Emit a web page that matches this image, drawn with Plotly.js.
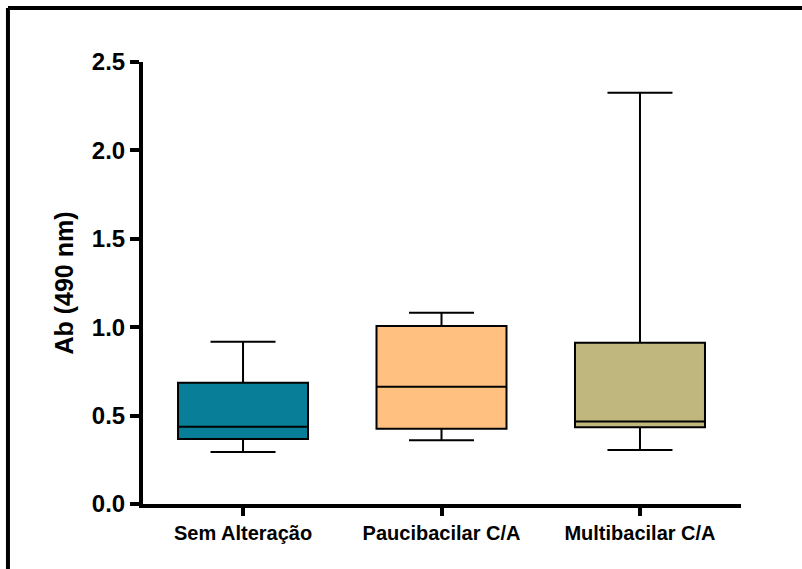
<!DOCTYPE html>
<html>
<head>
<meta charset="utf-8">
<script src="https://cdn.plot.ly/plotly-3.0.1.min.js"></script>
<style>html,body{margin:0;padding:0;background:#fff;}#chart{width:802px;height:569px;}</style>
</head>
<body>
<div id="chart"></div>
<script>
const categories = ["Sem Alteração", "Paucibacilar C/A", "Multibacilar C/A"];
const minValues = [0.294, 0.360, 0.305];
const q1Values = [0.368, 0.426, 0.434];
const medianValues = [0.437, 0.663, 0.466];
const q3Values = [0.686, 1.007, 0.912];
const maxValues = [0.918, 1.082, 2.326];
const fillColors = ["#087E99", "#FFC080", "#C0B77E"];
const yTickValues = [0, 0.5, 1.0, 1.5, 2.0, 2.5];
const yTickLabels = ["0.0", "0.5", "1.0", "1.5", "2.0", "2.5"];

const traces = categories.map((c, i) => ({
  type: "box",
  x: [c],
  q1: [q1Values[i]],
  median: [medianValues[i]],
  q3: [q3Values[i]],
  lowerfence: [minValues[i]],
  upperfence: [maxValues[i]],
  fillcolor: fillColors[i],
  line: {color: "#000", width: 2},
  width: 0.655,
  whiskerwidth: 0.5,
  boxpoints: false,
  hoverinfo: "skip",
  showlegend: false
}));

const font = "Liberation Sans, Arial, sans-serif";
const layout = {
  width: 802, height: 569,
  margin: {l: 143, r: 61, t: 62, b: 65},
  paper_bgcolor: "#fff", plot_bgcolor: "#fff",
  showlegend: false,
  xaxis: {
    type: "category",
    range: [-0.504, 2.509],
    showline: true, linecolor: "#000", linewidth: 4,
    ticks: "outside", ticklen: 8, tickwidth: 4, tickcolor: "#000",
    showgrid: false, zeroline: false,
    tickfont: {family: font, size: 20, color: "#000", weight: "bold"}
  },
  yaxis: {
    range: [0, 2.5],
    tickvals: yTickValues, ticktext: yTickLabels,
    showline: true, linecolor: "#000", linewidth: 4,
    ticks: "outside", ticklen: 9, tickwidth: 4, tickcolor: "#000",
    showgrid: false, zeroline: false,
    tickfont: {family: font, size: 24, color: "#000", weight: "bold"},
    title: {text: "Ab (490 nm)", font: {family: font, size: 25, color: "#000", weight: "bold"}, standoff: 12}
  },
  shapes: [
    {type: "line", xref: "paper", yref: "paper", x0: -0.2258, x1: 1.2, y0: 1.122, y1: 1.122, line: {color: "#000", width: 4}},
    {type: "line", xref: "paper", yref: "paper", x0: -0.2258, x1: -0.2258, y0: -0.3, y1: 1.122, line: {color: "#000", width: 4}}
  ]
};

Plotly.newPlot("chart", traces, layout, {displayModeBar: false, staticPlot: true});
</script>
</body>
</html>
